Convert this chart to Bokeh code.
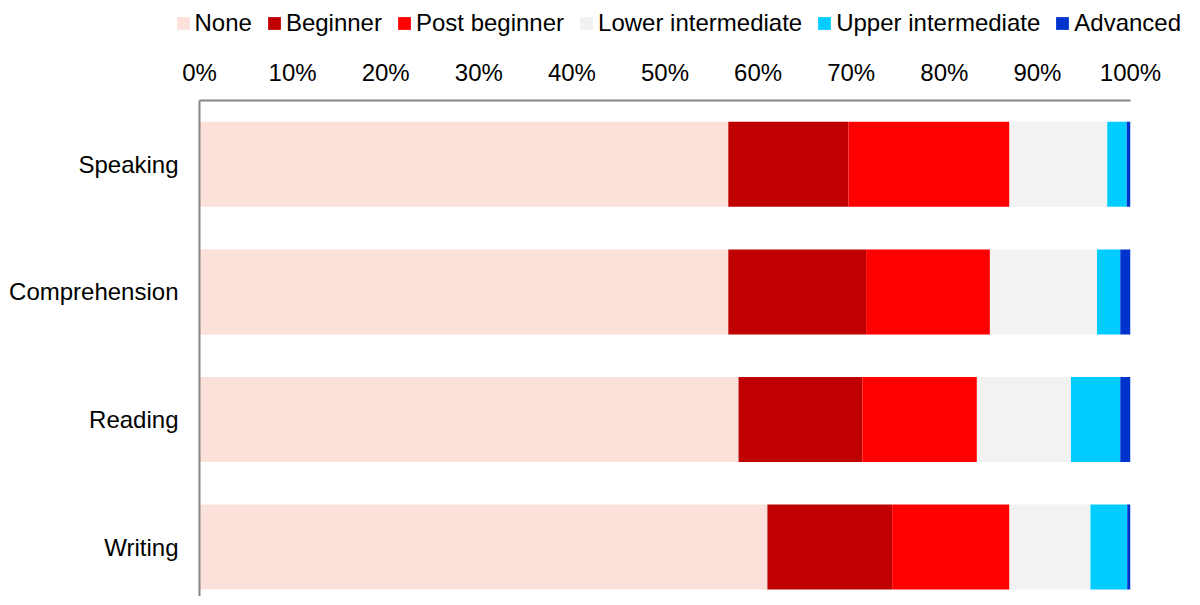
from bokeh.plotting import figure
from bokeh.models import (ColumnDataSource, Range1d, FixedTicker, PrintfTickFormatter,
                          LinearAxis, Legend, LegendItem)
from bokeh.layouts import column
from bokeh.embed import file_html
from bokeh.resources import INLINE

categories = ["Speaking", "Comprehension", "Reading", "Writing"]
levels = ["None", "Beginner", "Post beginner", "Lower intermediate",
          "Upper intermediate", "Advanced"]
none_vals = [56.8, 56.8, 57.9, 61.0]
beginner_vals = [12.9, 14.8, 13.3, 13.4]
post_beginner_vals = [17.3, 13.3, 12.3, 12.6]
lower_int_vals = [10.5, 11.5, 10.1, 8.7]
upper_int_vals = [2.1, 2.5, 5.3, 3.95]
advanced_vals = [0.4, 1.1, 1.1, 0.35]
colors = ["#FCE0DA", "#C00000", "#FF0000", "#F2F2F2", "#00CCFF", "#0033CC"]
x_ticks = [0, 10, 20, 30, 40, 50, 60, 70, 80, 90, 100]

FONT = "Liberation Sans"
FS = "24px"

positions = list(range(len(categories)))
data = {"pos": positions,
        levels[0]: none_vals, levels[1]: beginner_vals, levels[2]: post_beginner_vals,
        levels[3]: lower_int_vals, levels[4]: upper_int_vals, levels[5]: advanced_vals}
source = ColumnDataSource(data)

# ---- main chart ----
p = figure(frame_width=931, frame_height=496,
           min_border_left=199, min_border_right=61, min_border_top=55, min_border_bottom=0,
           x_range=Range1d(0, 100), y_range=Range1d(3.387, -0.5),
           x_axis_location=None, y_axis_location=None,
           output_backend="svg", toolbar_location=None,
           background_fill_color="white", border_fill_color="white")
p.outline_line_color = None
p.xgrid.grid_line_color = None
p.ygrid.grid_line_color = None
p.frame_align = False

renderers = p.hbar_stack(levels, y="pos", height=0.666, color=colors, line_color=None,
                         source=source)

xaxis = LinearAxis(ticker=FixedTicker(ticks=x_ticks),
                   formatter=PrintfTickFormatter(format="%d%%"))
xaxis.axis_line_color = "#868686"
xaxis.axis_line_width = 2
xaxis.major_tick_line_color = None
xaxis.minor_tick_line_color = None
xaxis.major_tick_out = 0
xaxis.major_tick_in = 0
xaxis.major_label_standoff = 15
xaxis.major_label_text_font = FONT
xaxis.major_label_text_font_size = FS
xaxis.major_label_text_color = "#000000"
p.add_layout(xaxis, "above")

yaxis = LinearAxis(ticker=FixedTicker(ticks=positions),
                   major_label_overrides={i: c for i, c in enumerate(categories)})
yaxis.axis_line_color = "#868686"
yaxis.axis_line_width = 2
yaxis.major_tick_line_color = None
yaxis.minor_tick_line_color = None
yaxis.major_tick_out = 0
yaxis.major_tick_in = 0
yaxis.major_label_standoff = 21
yaxis.major_label_text_font = FONT
yaxis.major_label_text_font_size = FS
yaxis.major_label_text_color = "#000000"
p.add_layout(yaxis, "left")

# ---- legend strip ----
lg = figure(width=1191, height=45, min_border=0,
            x_range=Range1d(0, 1), y_range=Range1d(0, 1),
            x_axis_location=None, y_axis_location=None,
            output_backend="svg", toolbar_location=None,
            background_fill_color="white", border_fill_color="white")
lg.outline_line_color = None
lg.xgrid.grid_line_color = None
lg.ygrid.grid_line_color = None
lg.frame_align = False
# off-screen proxies, only used to draw the legend swatches
legend_renderers = [lg.hbar(y=[-5], left=[0], right=[1], height=0.5, color=c, line_color=None)
                    for c in colors]
legend = Legend(items=[LegendItem(label=l, renderers=[r])
                       for l, r in zip(levels, legend_renderers)],
                orientation="horizontal", location=(174.5, 8),
                glyph_width=16, glyph_height=16, label_standoff=4, spacing=14,
                padding=0, margin=0, border_line_color=None, background_fill_alpha=0,
                label_text_font=FONT, label_text_font_size=FS, label_text_color="#000000")
lg.add_layout(legend, "center")

layout = column(lg, p, spacing=0)
open("out.html", "w").write(file_html(layout, INLINE))
